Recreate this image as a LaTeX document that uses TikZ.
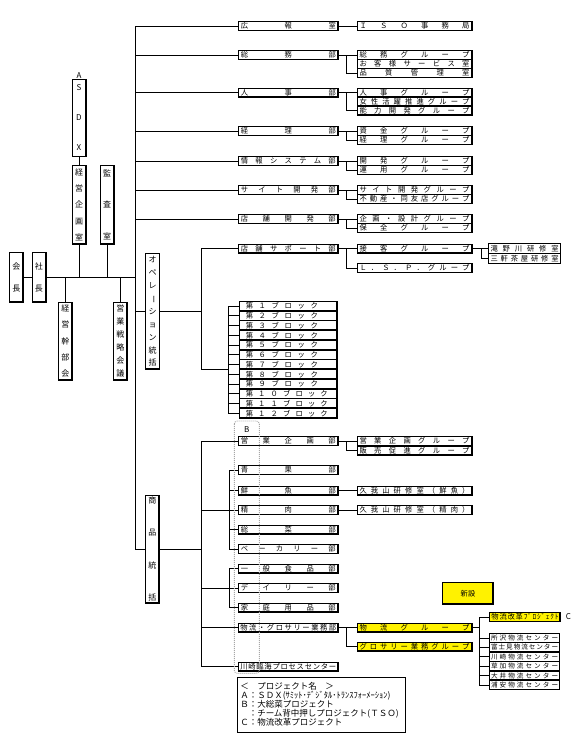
\documentclass[tikz,border=0pt]{standalone}
\usepackage{fontspec}
\setmainfont{Noto Sans CJK JP}
\usepackage{graphicx}
\newcommand\hzfont{\fontsize{7.3}{8}\selectfont}
\newcommand\smfont{\fontsize{6.6}{7}\selectfont}
\newcommand\vzfont{\fontsize{8}{9}\selectfont}
\newcommand\lgfont{\fontsize{8.5}{9}\selectfont}
\newcommand\sprd[2]{\hbox to #1pt{\sprdA#2\relax}}
\def\sprdA#1{\ifx#1\relax\else#1\expandafter\sprdB\fi}
\def\sprdB#1{\ifx#1\relax\else\hfill#1\expandafter\sprdB\fi}
\newcommand\vspr[2]{\vbox to #1pt{\vsprA#2\relax}}
\def\vsprA#1{\ifx#1\relax\else\vch{#1}\expandafter\vsprB\fi}
\def\vsprB#1{\ifx#1\relax\else\vfill\vch{#1}\expandafter\vsprB\fi}
\def\vch#1{\hbox to 10pt{\hss#1\hss}}
\def\chobar{\rotatebox[origin=c]{-90}{ー}}
\newcommand\forkto[4]{%
  \draw[ln] (#1.east) -- (#2.west);
  \draw[ln] (#1.east -| #4) |- (#3.west);}
\begin{document}
\begin{tikzpicture}[x=1pt,y=-1pt,
  ln/.style={line width=0.8pt},
  thk/.style={path picture={\draw[line width=2pt] (path picture bounding box.north east) -- (path picture bounding box.south east) -- (path picture bounding box.south west);}},
  box/.style={draw, fill=white, line width=0.6pt, inner sep=0, minimum height=9, font=\hzfont, thk},
  hb/.style={box, minimum width=#1, anchor=west},
  blk/.style={box, minimum width=97.4, minimum height=9.75, anchor=west},
  vb/.style={draw, fill=white, line width=0.6pt, inner sep=0, minimum width=14, font=\vzfont, thk},
  yl/.style={fill=yellow}]
\useasboundingbox (0,0) rectangle (585,739);

% ---- left column vertical boxes
\node[vb, minimum height=49.6] (kaicho) at (16.3,277.5) {\vspr{28}{会長}};
\node[vb, minimum height=49.6] (shacho) at (39,277.5) {\vspr{28}{社長}};
\node[vb, minimum height=77.7] (asdx) at (79,117.8) {\vspr{66}{SDX}};
\node[font=\vzfont, inner sep=0] (asdxA) at (79,75.5) {A};
\node[vb, minimum height=78.7] (keiei) at (79,204.6) {\vspr{72}{経営企画室}};
\node[vb, minimum height=78.7] (kansa) at (107,204.6) {\vspr{70}{監査室}};
\node[vb, minimum height=77.7] (kanbu) at (65.3,341.2) {\vspr{72}{経営幹部会}};
\node[vb, minimum height=77.7] (senryaku) at (120.3,341.2) {\vspr{72}{営業戦略会議}};
\node[vb, minimum height=116] (ope) at (152.5,311.3) {\vspr{110}{オペレ\chobar ション統括}};
\node[vb, minimum height=108] (shohin) at (152.3,549) {\vspr{104}{商品統括}};

% ---- top departments
\node[hb=100] (koho) at (238,26) {\sprd{95}{広報室}};
\node[hb=115] (iso) at (356.7,26) {\sprd{110}{ＩＳＯ事務局}};
\node[hb=100] (somu) at (238,55) {\sprd{95}{総務部}};
\node[hb=115] (somuG) at (356.7,55) {\sprd{110}{総務グループ}};
\node[hb=115] (okyaku) at (356.7,64) {\sprd{110}{お客様サービス室}};
\node[hb=115] (hinshitsu) at (356.7,73) {\sprd{110}{品質管理室}};
\node[hb=100] (jinji) at (238,92.5) {\sprd{95}{人事部}};
\node[hb=115] (jinjiG) at (356.7,92.5) {\sprd{110}{人事グループ}};
\node[hb=115] (josei) at (356.7,101.5) {\sprd{110}{女性活躍推進グループ}};
\node[hb=115] (noryoku) at (356.7,110.5) {\sprd{110}{能力開発グループ}};
\node[hb=100] (keiri) at (238,131) {\sprd{95}{経理部}};
\node[hb=115] (shikin) at (356.7,131) {\sprd{110}{資金グループ}};
\node[hb=115] (keiriG) at (356.7,140) {\sprd{110}{経理グループ}};
\node[hb=100] (joho) at (238,161) {\sprd{95}{情報システム部}};
\node[hb=115] (kaihatsu) at (356.7,161) {\sprd{110}{開発グループ}};
\node[hb=115] (unyo) at (356.7,170) {\sprd{110}{運用グループ}};
\node[hb=100] (site) at (238,190) {\sprd{95}{サイト開発部}};
\node[hb=115] (siteG) at (356.7,190) {\sprd{110}{サイト開発グループ}};
\node[hb=115] (fudosan) at (356.7,199) {\sprd{110}{不動産・同友店グループ}};
\node[hb=100] (tenpo) at (238,219) {\sprd{95}{店舗開発部}};
\node[hb=115] (kikaku) at (356.7,219) {\sprd{110}{企画・設計グループ}};
\node[hb=115] (hozen) at (356.7,228) {\sprd{110}{保全グループ}};
\node[hb=100] (support) at (238,248.5) {\sprd{95}{店舗サポート部}};
\node[hb=115] (sekkyaku) at (356.7,248.5) {\sprd{110}{接客グループ}};
\node[hb=115] (lsp) at (356.7,268) {\sprd{110}{Ｌ．Ｓ．Ｐ．グループ}};
\node[hb=72, minimum height=10] (takino) at (488.3,248.5) {\sprd{68}{滝野川研修室}};
\node[hb=72, minimum height=10] (sangen) at (488.3,258.5) {\sprd{68}{三軒茶屋研修室}};

% ---- blocks
\node[blk] (b1) at (239.3,306) {\hbox to 95pt{\hspace{5pt}\sprd{72}{第１ブロック}\hfill}};
\node[blk] (b2) at (239.3,315.75) {\hbox to 95pt{\hspace{5pt}\sprd{72}{第２ブロック}\hfill}};
\node[blk] (b3) at (239.3,325.5) {\hbox to 95pt{\hspace{5pt}\sprd{72}{第３ブロック}\hfill}};
\node[blk] (b4) at (239.3,335.25) {\hbox to 95pt{\hspace{5pt}\sprd{72}{第４ブロック}\hfill}};
\node[blk] (b5) at (239.3,345) {\hbox to 95pt{\hspace{5pt}\sprd{72}{第５ブロック}\hfill}};
\node[blk] (b6) at (239.3,354.75) {\hbox to 95pt{\hspace{5pt}\sprd{72}{第６ブロック}\hfill}};
\node[blk] (b7) at (239.3,364.5) {\hbox to 95pt{\hspace{5pt}\sprd{72}{第７ブロック}\hfill}};
\node[blk] (b8) at (239.3,374.25) {\hbox to 95pt{\hspace{5pt}\sprd{72}{第８ブロック}\hfill}};
\node[blk] (b9) at (239.3,384) {\hbox to 95pt{\hspace{5pt}\sprd{72}{第９ブロック}\hfill}};
\node[blk] (b10) at (239.3,393.75) {\hbox to 95pt{\hspace{5pt}\sprd{82}{第１０ブロック}\hfill}};
\node[blk] (b11) at (239.3,403.5) {\hbox to 95pt{\hspace{5pt}\sprd{82}{第１１ブロック}\hfill}};
\node[blk] (b12) at (239.3,413.25) {\hbox to 95pt{\hspace{5pt}\sprd{82}{第１２ブロック}\hfill}};

% ---- merchandise
\node[hb=100] (eikikaku) at (238,441) {\sprd{95}{営業企画部}};
\node[hb=115] (eikikakuG) at (356.7,441) {\sprd{110}{営業企画グループ}};
\node[hb=115] (hanbai) at (356.7,450.5) {\sprd{110}{販売促進グループ}};
\node[hb=100] (seika) at (238,470) {\sprd{95}{青果部}};
\node[hb=100] (sengyo) at (238,490.5) {\sprd{95}{鮮魚部}};
\node[hb=100] (seiniku) at (238,510) {\sprd{95}{精肉部}};
\node[hb=100] (sozai) at (238,529.5) {\sprd{95}{総菜部}};
\node[hb=100] (bakery) at (238,549) {\sprd{95}{ベーカリー部}};
\node[hb=100] (ippan) at (238,568.5) {\sprd{95}{一般食品部}};
\node[hb=100] (daily) at (238,588) {\sprd{95}{デイリー部}};
\node[hb=100] (katei) at (238,607.5) {\sprd{95}{家庭用品部}};
\node[hb=100] (butsuryu) at (238,627.3) {\sprd{96}{物流・グロサリー業務部}};
\node[hb=100] (kawasaki) at (238,666.7) {\sprd{96}{川崎臨海プロセスセンター}};
\node[hb=115] (kugaS) at (356.7,490.5) {\sprd{110}{久我山研修室（鮮魚）}};
\node[hb=115] (kugaN) at (356.7,510) {\sprd{110}{久我山研修室（精肉）}};
\node[hb=115, yl] (butsuryuG) at (356.7,627.3) {\sprd{110}{物流グループ}};
\node[hb=115, yl] (grocery) at (356.7,646.3) {\sprd{110}{グロサリー業務グループ}};
\node[hb=70.7, yl] (kaikaku) at (489.3,617) {\sprd{67}{物流改革ﾌﾟﾛｼﾞｪｸﾄ}};
\node[inner sep=0, font=\vzfont] (Clabel) at (568.3,617) {C};
\node[hb=70, minimum height=9.4, font=\smfont] (tokoro) at (489.3,638) {\sprd{67}{所沢物流センター}};
\node[hb=70, minimum height=9.4, font=\smfont] (fujimi) at (489.3,647.4) {\sprd{67}{富士見物流センター}};
\node[hb=70, minimum height=9.4, font=\smfont] (kawaB) at (489.3,656.8) {\sprd{67}{川崎物流センター}};
\node[hb=70, minimum height=9.4, font=\smfont] (soka) at (489.3,666.2) {\sprd{67}{草加物流センター}};
\node[hb=70, minimum height=9.4, font=\smfont] (oi) at (489.3,675.6) {\sprd{67}{大井物流センター}};
\node[hb=70, minimum height=9.4, font=\smfont] (urayasu) at (489.3,685) {\sprd{67}{浦安物流センター}};
\node[draw, line width=0.9pt, fill=yellow, minimum width=50.6, minimum height=22, inner sep=0, font=\hzfont, thk] (shinsetsu) at (468,593.3) {新設};

% ---- legend
\node[draw, line width=0.9pt, anchor=north west, minimum width=168, minimum height=55, text width=163pt, inner xsep=2.5pt, inner ysep=2pt, align=left, font=\lgfont] (legend) at (237.3,676.7)
 {＜　プロジェクト名　＞\\Ａ：ＳＤＸ(ｻﾐｯﾄ･ﾃﾞｼﾞﾀﾙ･ﾄﾗﾝｽﾌｫｰﾒｰｼｮﾝ)\\Ｂ：大総菜プロジェクト\\　：チーム背中押しプロジェクト(ＴＳＯ)\\Ｃ：物流改革プロジェクト};

% ---- connectors: left column
\coordinate (J) at (135,277.5);
\draw[ln] (kaicho.east) -- (shacho.west);
\draw[ln] (shacho.east) -- (J);
\draw[ln] (keiei.south) -- (keiei.south |- J);
\draw[ln] (kansa.south) -- (kansa.south |- J);
\draw[ln] (kanbu.north) -- (kanbu.north |- J);
\draw[ln] (senryaku.north) -- (senryaku.north |- J);
\draw[ln] (asdx.south) -- (keiei.north);

% trunk
\coordinate (T0) at (135,26);
\coordinate (T1) at (135,549);
\draw[ln] (koho.west) -- (T0) -- (T1);
\foreach \n in {somu,jinji,keiri,joho,site,tenpo} \draw[ln] (\n.west) -- (\n.west -| T0);
\draw[ln] (ope.west) -- (ope.west -| T0);
\draw[ln] (shohin.west) -- (T1);

% sub forks
\coordinate (FX) at (346.7,0);
\coordinate (FY) at (481.7,0);
\coordinate (FZ) at (479.3,0);
\draw[ln] (koho.east) -- (iso.west);
\forkto{somu}{somuG}{hinshitsu}{FX}
\forkto{jinji}{jinjiG}{noryoku}{FX}
\forkto{keiri}{shikin}{keiriG}{FX}
\forkto{joho}{kaihatsu}{unyo}{FX}
\forkto{site}{siteG}{fudosan}{FX}
\forkto{tenpo}{kikaku}{hozen}{FX}
\forkto{support}{sekkyaku}{lsp}{FX}
\forkto{sekkyaku}{takino}{sangen}{FY}
\forkto{eikikaku}{eikikakuG}{hanbai}{FX}
\forkto{butsuryu}{butsuryuG}{grocery}{FX}
\draw[ln] (sengyo.east) -- (kugaS.west);
\draw[ln] (seiniku.east) -- (kugaN.west);
\draw[ln] (butsuryuG.east) -- (butsuryuG.east -| FZ);
\draw[ln] (kaikaku.west) -| (FZ |- urayasu.west) -- (urayasu.west);
\foreach \n in {tokoro,fujimi,kawaB,soka,oi} \draw[ln] (\n.west) -- (\n.west -| FZ);

% operations
\coordinate (OB) at (201.7,369);
\coordinate (BV) at (228.3,369);
\draw[ln] (ope.east) -- (ope.east -| OB);
\draw[ln] (support.west) -| (OB) -- (BV);
\draw[ln] (b1.west -| BV) -- (b12.west -| BV);
\foreach \i in {1,...,12} \draw[ln] (b\i.west) -- (b\i.west -| BV);

% merchandise
\coordinate (SV) at (201.7,0);
\coordinate (GA) at (229,0);
\draw[ln] (shohin.east) -- (shohin.east -| SV);
\draw[ln] (eikikaku.west) -| (SV |- kawasaki.west) -- (kawasaki.west);
\draw[ln] (butsuryu.west) -- (butsuryu.west -| SV);
\draw[ln] (seika.west) -| (GA |- bakery.west) -- (bakery.west);
\foreach \n in {sengyo,seiniku,sozai} \draw[ln] (\n.west) -- (\n.west -| GA);
\draw[ln] (seiniku.west -| GA) -- (seiniku.west -| SV);
\draw[ln] (ippan.west) -| (GA |- katei.west) -- (katei.west);
\draw[ln] (daily.west) -- (daily.west -| SV);

% project B frame
\draw[gray!70, line width=0.9pt, dash pattern=on 1pt off 1pt, rounded corners=3pt] (234.3,421) rectangle (259.3,673.3);
\node[inner sep=0, font=\vzfont] (Blabel) at (246.7,430) {B};
\end{tikzpicture}
\end{document}
